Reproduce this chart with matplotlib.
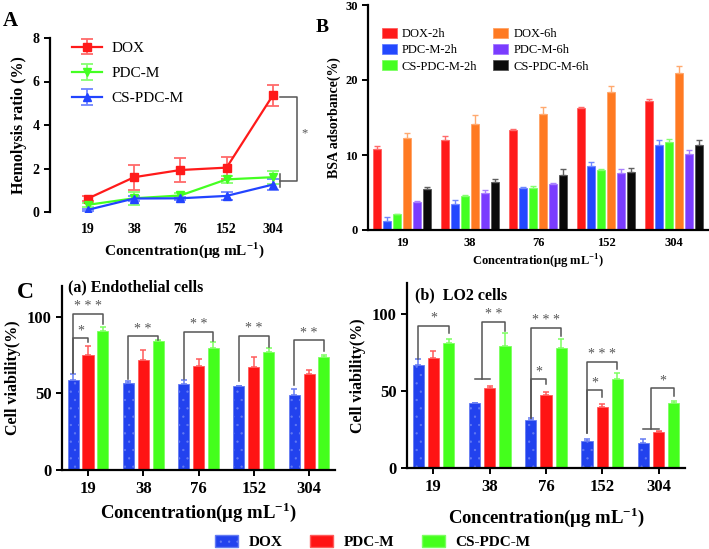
import numpy as np
import matplotlib
matplotlib.use("Agg")
import matplotlib.pyplot as plt
from matplotlib.patches import Patch

plt.rcParams['font.family'] = ['Liberation Serif', 'DejaVu Serif']
plt.rcParams['mathtext.fontset'] = 'custom'
plt.rcParams['mathtext.rm'] = 'Liberation Serif'
plt.rcParams['mathtext.bf'] = 'Liberation Serif:bold'
plt.rcParams['hatch.linewidth'] = 0.4

# ---- data ----
concentrations = ['19', '38', '76', '152', '304']

# A: hemolysis ratio (%)
hemo_dox = [0.62, 1.60, 1.93, 2.04, 5.36]
hemo_dox_err = [0.10, 0.57, 0.55, 0.50, 0.50]
hemo_pdc = [0.33, 0.63, 0.76, 1.50, 1.60]
hemo_pdc_err = [0.08, 0.30, 0.10, 0.16, 0.30]
hemo_cs = [0.10, 0.62, 0.63, 0.74, 1.26]
hemo_cs_err = [0.05, 0.10, 0.08, 0.18, 0.25]

# B: BSA adsorbance (%)
bsa_labels = ['DOX-2h', 'PDC-M-2h', 'CS-PDC-M-2h', 'DOX-6h', 'PDC-M-6h', 'CS-PDC-M-6h']
bsa_dox_2h = [10.8, 12.0, 13.3, 16.3, 17.2]
bsa_dox_2h_err = [0.45, 0.60, 0.20, 0.10, 0.30]
bsa_pdc_2h = [1.2, 3.5, 5.55, 8.6, 11.3]
bsa_pdc_2h_err = [0.60, 0.50, 0.13, 0.53, 0.67]
bsa_cs_2h = [2.1, 4.5, 5.55, 8.0, 11.7]
bsa_cs_2h_err = [0.05, 0.20, 0.30, 0.20, 0.50]
bsa_dox_6h = [12.3, 14.2, 15.5, 18.4, 20.9]
bsa_dox_6h_err = [0.58, 1.20, 0.90, 0.85, 1.00]
bsa_pdc_6h = [3.8, 4.9, 6.2, 7.6, 10.1]
bsa_pdc_6h_err = [0.05, 0.50, 0.05, 0.53, 0.62]
bsa_cs_6h = [5.5, 6.4, 7.4, 7.8, 11.4]
bsa_cs_6h_err = [0.27, 0.35, 0.70, 0.50, 0.62]

# C: cell viability (%)
cell_labels = ['DOX', 'PDC-M', 'CS-PDC-M']
endo_dox = [58.8, 56.6, 55.9, 54.7, 48.6]
endo_dox_err = [3.7, 1.7, 2.8, 0.4, 4.4]
endo_pdc = [75.2, 71.5, 68.0, 67.3, 62.7]
endo_pdc_err = [5.9, 6.5, 4.4, 6.1, 2.8]
endo_cs = [90.8, 84.3, 79.5, 76.9, 73.4]
endo_cs_err = [2.2, 0.4, 3.9, 2.6, 1.7]

lo2_dox = [66.9, 42.0, 30.9, 17.4, 16.1]
lo2_dox_err = [3.5, 0.2, 1.5, 1.1, 2.4]
lo2_pdc = [71.5, 51.6, 47.5, 39.4, 23.1]
lo2_pdc_err = [4.1, 1.5, 1.7, 2.0, 0.9]
lo2_cs = [81.0, 78.9, 77.6, 58.0, 42.3]
lo2_cs_err = [2.6, 8.5, 6.1, 3.3, 1.1]

# significance brackets: (group, left bar, right bar, top, left foot, right foot, stars)
# left bar 0.5 = joint bracket over DOX and PDC-M
endo_sig = [(0, 0, 2, 101.7, 63.5, 95.2, '***'), (0, 0, 1, 86.0, 63.5, 83.2, '*'),
            (1, 0, 2, 87.1, 59.5, 85.0, '**'), (2, 0, 2, 90.0, 59.5, 84.0, '**'),
            (3, 0, 2, 87.6, 58.0, 80.5, '**'), (4, 0, 2, 84.5, 55.5, 77.8, '**')]
lo2_sig = [(0, 0, 2, 92.4, 70.4, 87.6, '*'), (1, 0.5, 2, 94.6, 58.0, 89.0, '**'),
           (2, 0, 2, 90.8, 32.5, 85.8, '***'), (2, 0, 1, 57.5, 32.5, 54.2, '*'),
           (3, 0, 2, 68.8, 22.7, 64.0, '***'), (3, 0, 1, 50.3, 22.7, 46.2, '*'),
           (4, 0.5, 2, 51.9, 25.3, 46.6, '*')]

RED, GREEN, BLUE = '#ff1a1a', '#44ff22', '#2244ff'
bsa_colors = ['#ff1a1a', '#2348ff', '#44ff22', '#ff7a22', '#7a3cff', '#0a0a0a']
cell_colors = ['#2242ee', '#ff1414', '#44ff1c']
SIG = '#555555'


def lighten(c, f=0.45):
    rgb = np.array(matplotlib.colors.to_rgb(c))
    return tuple(rgb + (1 - rgb) * f)


def style_axis(ax, fs):
    for s in ('top', 'right'):
        ax.spines[s].set_visible(False)
    for s in ('left', 'bottom'):
        ax.spines[s].set_linewidth(1.6)
    ax.tick_params(width=1.4, length=4, labelsize=fs)
    for t in ax.get_xticklabels() + ax.get_yticklabels():
        t.set_fontweight('bold')


xlabel = r'Concentration(μg mL$^{\mathbf{-1}}$)'

fig = plt.figure(figsize=(7.09, 5.49), dpi=100)
W, H = 709, 549


def add_axes_px(l, t, r, b):
    return fig.add_axes([l / W, 1 - b / H, (r - l) / W, (b - t) / H])


# ---- A ----
axA = add_axes_px(50, 38, 319, 212)
x = np.arange(len(concentrations))
for vals, errs, col, mk, lab in [(hemo_dox, hemo_dox_err, RED, 's', 'DOX'),
                                 (hemo_pdc, hemo_pdc_err, GREEN, 'v', 'PDC-M'),
                                 (hemo_cs, hemo_cs_err, BLUE, '^', 'CS-PDC-M')]:
    axA.errorbar(x, vals, yerr=errs, color=col, marker=mk, markersize=6, lw=1.6,
                 ecolor=lighten(col, 0.35), elinewidth=1.3, capsize=4, capthick=1.3,
                 label=lab)
axA.set_xlim(-0.82, 5.0)
axA.set_ylim(0, 8)
axA.set_yticks([0, 2, 4, 6, 8])
axA.set_xticks(x)
axA.set_xticklabels(concentrations)
style_axis(axA, 10)
axA.spines['bottom'].set_visible(False)
axA.tick_params(axis='x', length=0, pad=8)
axA.set_ylabel('Hemolysis ratio (%)', fontsize=11.5, fontweight='bold', labelpad=4)
axA.set_xlabel(xlabel, fontsize=11, fontweight='bold', labelpad=3)
axA.legend(loc='upper left', bbox_to_anchor=(0.08, 0.98), frameon=False, fontsize=11,
           handlelength=2.0, handletextpad=0.6, labelspacing=0.75, borderaxespad=0,
           borderpad=0)
# bracket DOX vs others at 304
axA.plot([4.16, 4.52, 4.52, 4.16], [5.3, 5.3, 1.42, 1.42], color=SIG, lw=1.1)
axA.plot([4.16, 4.16], [1.15, 1.77], color=SIG, lw=1.1)
axA.text(4.68, 3.6, '*', color=SIG, fontsize=9, ha='center', va='center')

# ---- B ----
axB = add_axes_px(368, 5, 708, 230)
bsa_vals = [bsa_dox_2h, bsa_pdc_2h, bsa_cs_2h, bsa_dox_6h, bsa_pdc_6h, bsa_cs_6h]
bsa_errs = [bsa_dox_2h_err, bsa_pdc_2h_err, bsa_cs_2h_err, bsa_dox_6h_err,
            bsa_pdc_6h_err, bsa_cs_6h_err]
slot, bw = 0.145, 0.12
for i, (vals, errs, col, lab) in enumerate(zip(bsa_vals, bsa_errs, bsa_colors, bsa_labels)):
    pos = x + (i - 2.5) * slot
    axB.bar(pos, vals, bw, color=col, edgecolor=lighten(col, 0.3), lw=0.6, label=lab)
    axB.errorbar(pos, vals, yerr=[np.zeros(len(vals)), errs], fmt='none',
                 ecolor=lighten(col, 0.35), elinewidth=1.0, capsize=2, capthick=1.0)
axB.set_xlim(-0.5, 4.5)
axB.set_ylim(0, 30)
axB.set_yticks([0, 10, 20, 30])
axB.set_xticks(x)
axB.set_xticklabels(concentrations)
style_axis(axB, 9)
axB.tick_params(axis='x', length=0, pad=5)
axB.set_ylabel('BSA adsorbance(%)', fontsize=10, fontweight='bold', labelpad=3)
axB.set_xlabel(xlabel, fontsize=9, fontweight='bold', labelpad=3)
axB.legend(loc='upper left', bbox_to_anchor=(0.04, 0.90), ncol=2, frameon=False,
           fontsize=9, handlelength=1.2, handleheight=0.9, handletextpad=0.4,
           labelspacing=0.3, columnspacing=1.3, borderaxespad=0, borderpad=0)


# ---- C ----
def cell_panel(ax, series, errors, sigs, title, title_xy):
    cslot, cbw = 0.27, 0.2
    for i, (vals, errs, col) in enumerate(zip(series, errors, cell_colors)):
        pos = x + (i - 1) * cslot
        ax.bar(pos, vals, cbw, color=col, edgecolor=lighten(col, 0.3), lw=0.6,
               hatch='..' if i == 0 else None)
        ax.errorbar(pos, vals, yerr=[np.zeros(len(vals)), errs], fmt='none',
                    ecolor=lighten(col, 0.3), elinewidth=1.1, capsize=2.5, capthick=1.1)
    for g, lb, rb, top, lf, rf, stars in sigs:
        xl = g + (lb - 1) * cslot
        xr = g + (rb - 1) * cslot
        ax.plot([xl, xl, xr, xr], [lf, top, top, rf], color=SIG, lw=1.1)
        if lb == 0.5:
            ax.plot([g - cslot, g], [lf, lf], color=SIG, lw=1.1)
        ax.text((xl + xr) / 2, top + 0.5, ' '.join(stars), color=SIG, fontsize=10,
                ha='center', va='bottom')
    ax.set_xlim(-0.47, 4.47)
    ax.set_ylim(0, 120)
    ax.set_yticks([0, 50, 100])
    ax.set_xticks(x)
    ax.set_xticklabels(concentrations)
    style_axis(ax, 12)
    ax.tick_params(axis='x', length=4, pad=4)
    ax.set_ylabel('Cell viability(%)', fontsize=11.5, fontweight='bold', labelpad=4)
    ax.text(title_xy[0], title_xy[1], title, transform=ax.transAxes, fontsize=11.5,
            fontweight='bold', ha='left', va='center')


axC1 = add_axes_px(62, 286, 335, 470)
cell_panel(axC1, [endo_dox, endo_pdc, endo_cs], [endo_dox_err, endo_pdc_err, endo_cs_err],
           endo_sig, '(a) Endothelial cells', (0.022, 0.99))
axC1.set_xlabel(xlabel, fontsize=13.5, fontweight='bold', labelpad=2)

axC2 = add_axes_px(407, 283, 685, 468)
cell_panel(axC2, [lo2_dox, lo2_pdc, lo2_cs], [lo2_dox_err, lo2_pdc_err, lo2_cs_err],
           lo2_sig, '(b)  LO2 cells', (0.03, 0.935))
axC2.set_xlabel(xlabel, fontsize=13.5, fontweight='bold', labelpad=7)

handles = [Patch(facecolor=c, edgecolor=lighten(c, 0.3), hatch='..' if i == 0 else None)
           for i, c in enumerate(cell_colors)]
fig.legend(handles, cell_labels, loc='center', bbox_to_anchor=(373 / W, 1 - 542 / H),
           ncol=3, frameon=False, prop={'weight': 'bold', 'size': 11},
           handlelength=1.5, handleheight=0.8, handletextpad=0.7, columnspacing=1.8)

# panel letters
fig.text(10 / W, 1 - 21 / H, 'A', fontsize=15, fontweight='bold', ha='center', va='center')
fig.text(322 / W, 1 - 28 / H, 'B', fontsize=14, fontweight='bold', ha='center', va='center')
fig.text(25 / W, 1 - 292 / H, 'C', fontsize=17, fontweight='bold', ha='center', va='center')

fig.savefig('out.png', dpi=100)
